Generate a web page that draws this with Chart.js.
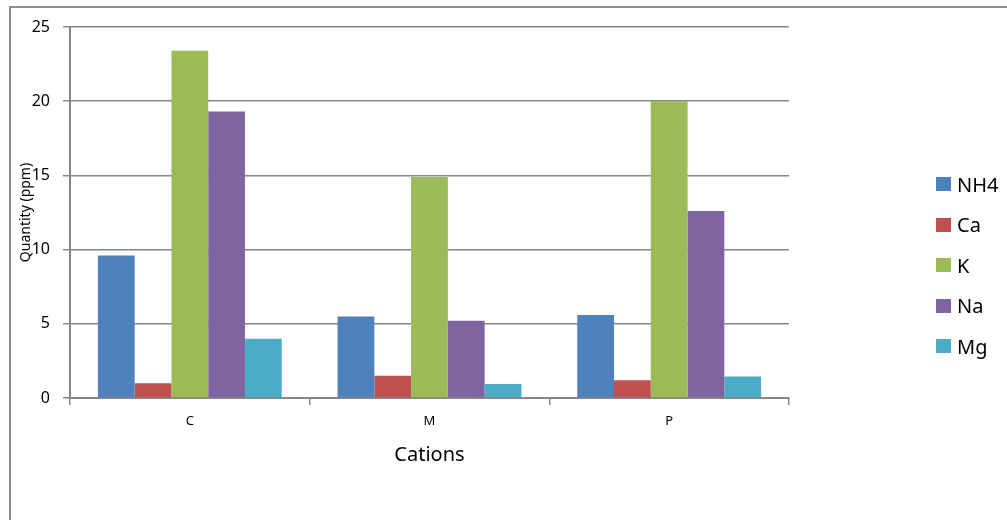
<!DOCTYPE html>
<html>
<head>
<meta charset="utf-8">
<script src="https://cdn.jsdelivr.net/npm/chart.js@4/dist/chart.umd.min.js"></script>
<style>
  html, body { margin: 0; padding: 0; background: #fff; overflow: hidden; }
  #wrap { position: relative; width: 1007px; height: 520px; overflow: hidden; }
  #frame { position: absolute; left: 9px; top: 6px; width: 1100px; height: 600px;
           border-left: 2px solid #8e8e8e; border-top: 2px solid #8e8e8e; box-sizing: border-box; }
  #c { position: absolute; left: 0; top: 0; }
  #legend { position: absolute; left: 936px; top: 0; font-family: "Noto Sans", sans-serif; font-size: 20px; color: #000; }
  .item { position: absolute; left: 0; display: flex; align-items: center; white-space: nowrap; }
  .sw { width: 15px; height: 14px; margin-right: 6px; }
</style>
</head>
<body>
<div id="wrap">
  <div id="frame"></div>
  <canvas id="c" width="1007" height="520"></canvas>
  <div id="legend"></div>
</div>
<script>
const categories = ["C", "M", "P"];
const seriesNames = ["NH4", "Ca", "K", "Na", "Mg"];
const NH4 = [9.6, 5.5, 5.6];
const Ca  = [1.0, 1.5, 1.2];
const K   = [23.4, 14.9, 20.0];
const Na  = [19.3, 5.2, 12.6];
const Mg  = [4.0, 0.95, 1.45];
const yTicks = [0, 5, 10, 15, 20, 25];
const colors = ["#4F81BD", "#C0504D", "#9BBB59", "#8064A2", "#4BACC6"];
const seriesValues = [NH4, Ca, K, Na, Mg];

const datasets = seriesNames.map((n, i) => ({
  label: n,
  data: seriesValues[i],
  backgroundColor: colors[i],
  borderWidth: 0,
  categoryPercentage: 0.767,
  barPercentage: 1.0
}));

const gridColor = "#868686";

new Chart(document.getElementById("c"), {
  type: "bar",
  data: { labels: categories, datasets },
  options: {
    responsive: false,
    animation: false,
    devicePixelRatio: 1,
    layout: { padding: { top: 27, right: 218, bottom: 0, left: 0 } },
    plugins: { legend: { display: false }, tooltip: { enabled: false } },
    scales: {
      x: {
        grid: { display: true, drawOnChartArea: false, drawTicks: true, tickLength: 7, color: gridColor, lineWidth: 1.5, offset: true },
        border: { display: true, color: gridColor, width: 2 },
        ticks: { color: "#000", padding: 8, font: { family: "Noto Sans", size: 13 } },
        title: { display: true, text: "Cations", color: "#000", font: { family: "Noto Sans", size: 20 }, padding: { top: 0, bottom: 53 } },
        afterFit: (s) => { s.height = 122; }
      },
      y: {
        min: 0, max: 25,
        afterBuildTicks: (s) => { s.ticks = yTicks.map(v => ({ value: v })); },
        grid: { color: gridColor, lineWidth: 1.5, tickLength: 7, drawTicks: true },
        border: { display: true, color: gridColor, width: 2 },
        ticks: { color: "#000", padding: 13, font: { family: "Noto Sans", size: 16 } },
        title: { display: true, text: "Quantity (ppm)", color: "#000", font: { family: "Noto Sans", size: 14 }, padding: { top: 18, bottom: 0 } },
        afterFit: (s) => { s.width = 70; }
      }
    }
  }
});

const legend = document.getElementById("legend");
const rowTops = [184, 224.5, 265, 305.5, 346];
seriesNames.forEach((n, i) => {
  const it = document.createElement("div");
  it.className = "item";
  it.style.top = (rowTops[i] - 15) + "px";
  it.style.height = "30px";
  const sw = document.createElement("div");
  sw.className = "sw";
  sw.style.background = colors[i];
  const tx = document.createElement("span");
  tx.textContent = n;
  it.appendChild(sw); it.appendChild(tx);
  legend.appendChild(it);
});
</script>
</body>
</html>
